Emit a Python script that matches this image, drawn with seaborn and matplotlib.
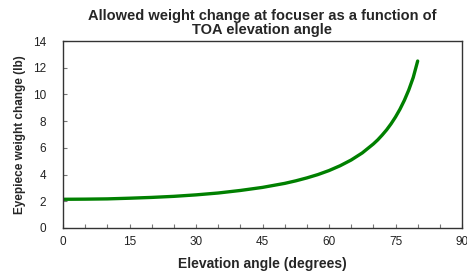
import matplotlib
matplotlib.use('Agg')
import matplotlib.pyplot as plt
import seaborn as sns
import pandas as pd
from matplotlib.ticker import MultipleLocator

# values
angles = [0, 5, 10, 15, 20, 25, 30, 35, 40, 45, 50, 52.5, 55, 57.5, 60, 62.5, 65,
          67.5, 70, 71, 72, 73, 74, 75, 76, 77, 78, 79, 80]
weight_change = [2.15, 2.16, 2.18, 2.23, 2.29, 2.37, 2.48, 2.62, 2.81, 3.04,
                 3.34, 3.53, 3.75, 4.00, 4.30, 4.66, 5.09, 5.62, 6.29, 6.60,
                 6.96, 7.35, 7.80, 8.31, 8.89, 9.56, 10.34, 11.27, 12.5]
x_ticks = [0, 15, 30, 45, 60, 75, 90]
y_ticks = [0, 2, 4, 6, 8, 10, 12, 14]

df = pd.DataFrame({'angle': angles, 'change': weight_change})

sns.set_style('white')
plt.rcParams['font.family'] = ['Liberation Sans', 'DejaVu Sans']

fig = plt.figure(figsize=(4.67, 2.71), dpi=100)
ax = fig.add_axes([63 / 467, 1 - 228 / 271, (462 - 63) / 467, (228 - 41) / 271])

sns.lineplot(data=df, x='angle', y='change', ax=ax, color='#008000', linewidth=2.4)

ax.set_xlim(0, 90)
ax.set_ylim(0, 14)
ax.set_xticks(x_ticks)
ax.set_yticks(y_ticks)
ax.xaxis.set_minor_locator(MultipleLocator(5))
ax.tick_params(axis='x', which='both', direction='in', length=3, width=0.8, colors='#777777',
               labelcolor='#222222', labelsize=8.5, pad=6, bottom=True)
ax.tick_params(axis='y', which='major', direction='in', length=3, width=0.8, colors='#777777',
               labelcolor='#222222', labelsize=8.5, pad=12, left=True)

for s in ax.spines.values():
    s.set_color('#333333')
    s.set_linewidth(1.0)

ax.set_xlabel('Elevation angle (degrees)', fontsize=10, fontweight='bold', labelpad=6)
ax.set_ylabel('Eyepiece weight change (lb)', fontsize=8.5, fontweight='bold', labelpad=5)
ax.set_title('Allowed weight change at focuser as a function of\nTOA elevation angle',
             fontsize=10.5, fontweight='bold', pad=5, linespacing=1.05)

fig.savefig('out.png', dpi=100)
